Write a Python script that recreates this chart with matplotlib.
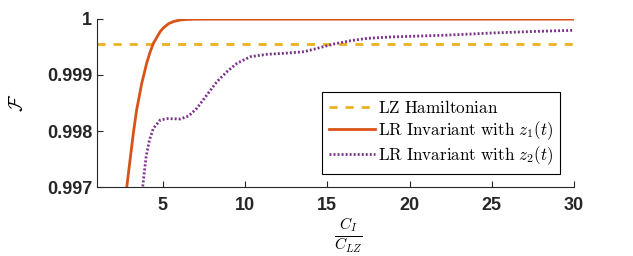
import matplotlib
matplotlib.use('Agg')
import matplotlib.pyplot as plt

plt.rcParams['mathtext.fontset'] = 'cm'

# LZ Hamiltonian fidelity (constant)
lz_x = [1, 30]
lz_y = [0.999555, 0.999555]

# LR invariant with z1(t)
z1_x = [2.75, 2.81, 3.01, 3.21, 3.41, 3.72, 4.02, 4.23, 4.43, 4.84, 5.05, 5.35, 5.65, 6.06, 6.45, 6.85,
        8, 12, 20, 30]
z1_y = [0.99689, 0.997, 0.99748, 0.99796, 0.998375, 0.99885, 0.99921, 0.99941, 0.999566, 0.999774,
        0.999845, 0.999915, 0.999955, 0.999982, 0.999992, 0.999996, 0.999997, 0.999997, 0.999997,
        0.999997]

# LR invariant with z2(t)
z2_x = [3.75, 3.78, 3.87, 3.99, 4.19, 4.43, 4.84, 5.24, 5.65, 6.06, 6.57, 7.07, 7.68, 8.29, 8.9,
        9.51, 10.33, 11.34, 12.36, 13.58, 14.39, 15.41, 16.43, 17.44, 18.87, 20.5, 22.3, 25, 27.6, 30]
z2_y = [0.99694, 0.997, 0.997245, 0.997541, 0.997839, 0.998048, 0.998196, 0.99822, 0.998218,
        0.998214, 0.998268, 0.998405, 0.998643, 0.99888, 0.999059, 0.999208, 0.999327, 0.99937,
        0.999387, 0.999416, 0.999476, 0.999554, 0.999613, 0.999655, 0.999679, 0.999695, 0.999712,
        0.99975, 0.999778, 0.999798]

yticks = [0.997, 0.998, 0.999, 1]
ytick_labels = ['0.997', '0.998', '0.999', '1']
xticks = [5, 10, 15, 20, 25, 30]

fig = plt.figure(figsize=(6.33, 2.56), dpi=100)
ax = fig.add_axes([0.1532, 0.2695, 0.7536, 0.6563])

ax.plot(lz_x, lz_y, linestyle=(0, (2.9, 2.9)), color='#EDB120', linewidth=2,
        label=r'$\mathrm{LZ\ Hamiltonian}$')
ax.plot(z1_x, z1_y, linestyle='-', color='#D95319', linewidth=2,
        label=r'$\mathrm{LR\ Invariant\ with\ }z_1(t)$')
ax.plot(z2_x, z2_y, linestyle=(0, (0.7, 0.75)), color='#7E2F8E', linewidth=2,
        label=r'$\mathrm{LR\ Invariant\ with\ }z_2(t)$')

ax.set_xlim(1, 30)
ax.set_ylim(0.997, 1)
ax.set_xticks(xticks)
ax.set_yticks(yticks)
ax.set_yticklabels(ytick_labels)

for s in ['top', 'right']:
    ax.spines[s].set_visible(False)
for s in ['left', 'bottom']:
    ax.spines[s].set_color('#262626')
    ax.spines[s].set_linewidth(0.8)

ax.tick_params(direction='in', length=4, width=0.8, color='#262626', labelcolor='#262626')
ax.tick_params(axis='x', pad=7)
ax.tick_params(axis='y', pad=3.5)
for lab in ax.get_xticklabels() + ax.get_yticklabels():
    lab.set_fontfamily('Liberation Sans')
    lab.set_fontweight('bold')
    lab.set_fontsize(13)

ax.set_ylabel(r'$\mathcal{F}$', fontsize=14, labelpad=14)
ax.set_xlabel(r'$\frac{C_I}{C_{LZ}}$', fontsize=16)
ax.xaxis.set_label_coords(0.528, -0.172)

leg = ax.legend(loc='lower right', bbox_to_anchor=(0.9706, 0.0774), borderaxespad=0, fontsize=12.3,
                handlelength=2.7, handletextpad=0.15, borderpad=0.4, labelspacing=0.15,
                fancybox=False, framealpha=1, edgecolor='black')
leg.get_frame().set_linewidth(0.8)

fig.savefig('out.png', dpi=100)
